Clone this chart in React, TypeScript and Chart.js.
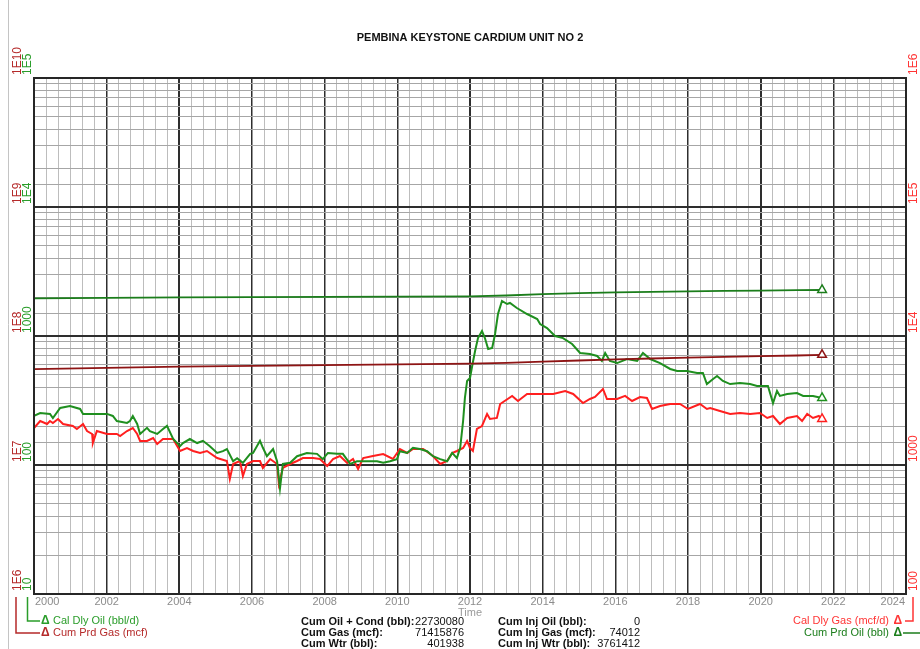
import { useEffect, useRef } from "react";
import { Chart, registerables } from "chart.js";

Chart.register(...registerables);

const FONT = "'Liberation Sans', Arial, Helvetica, sans-serif";

const chartTitle = "PEMBINA KEYSTONE CARDIUM UNIT NO 2";

// ---- Calendar-day oil rate (bbl/d) ----
const oilYears = [
  2000.0, 2000.17, 2000.44, 2000.52, 2000.72, 2000.99, 2001.27, 2001.35, 2001.73, 2002.01,
  2002.17, 2002.28, 2002.56, 2002.64, 2002.72, 2002.84, 2002.92, 2003.11, 2003.19, 2003.39,
  2003.55, 2003.66, 2003.83, 2004.02, 2004.1, 2004.29, 2004.49, 2004.65, 2004.84, 2005.04,
  2005.2, 2005.31, 2005.48, 2005.59, 2005.75, 2005.95, 2006.03, 2006.22, 2006.3, 2006.41,
  2006.58, 2006.69, 2006.77, 2006.85, 2007.05, 2007.24, 2007.51, 2007.79, 2007.95, 2008.09,
  2008.34, 2008.5, 2008.7, 2008.89, 2009.06, 2009.44, 2009.61, 2009.8, 2009.99, 2010.07,
  2010.27, 2010.43, 2010.62, 2010.82, 2010.98, 2011.18, 2011.37, 2011.51, 2011.64, 2011.73,
  2011.81, 2011.86, 2011.92, 2012.0, 2012.06, 2012.14, 2012.22, 2012.33, 2012.41, 2012.5,
  2012.61, 2012.69, 2012.77, 2012.88, 2013.02, 2013.1, 2013.29, 2013.57, 2013.85, 2013.93,
  2014.12, 2014.34, 2014.56, 2014.81, 2015.03, 2015.3, 2015.5, 2015.63, 2015.72, 2015.85,
  2016.05, 2016.32, 2016.6, 2016.76, 2016.96, 2017.23, 2017.51, 2017.7, 2017.97, 2018.25,
  2018.41, 2018.52, 2018.69, 2018.8, 2018.96, 2019.16, 2019.43, 2019.71, 2019.9, 2020.2,
  2020.34, 2020.45, 2020.53, 2020.73, 2021.0, 2021.17, 2021.44, 2021.69,
];
const oilRates = [
  240, 253, 249, 231, 277, 287, 272, 249, 249, 249,
  240, 219, 212, 219, 240, 208, 174, 194, 183, 174,
  190, 201, 159, 140, 148, 159, 148, 154, 140, 124,
  128, 133, 107, 113, 104, 122, 124, 154, 136, 117,
  133, 107, 66, 102, 104, 117, 124, 122, 111, 124,
  122, 122, 102, 107, 107, 107, 104, 107, 111, 128,
  124, 136, 133, 128, 117, 111, 107, 124, 113, 136,
  219, 331, 448, 472, 585, 765, 964, 1093, 964, 793,
  808, 1036, 1481, 1868, 1770, 1803, 1648, 1481, 1355, 1239,
  1153, 1000, 964, 867, 738, 725, 700, 640, 738, 640,
  617, 663, 640, 738, 663, 617, 555, 535, 535, 517,
  517, 424, 464, 490, 448, 424, 432, 424, 410, 410,
  302, 375, 343, 355, 361, 343, 343, 331,
];

// ---- Calendar-day gas rate (mcf/d) ----
const gasYears = [
  2000.0, 2000.17, 2000.36, 2000.44, 2000.52, 2000.66, 2000.8, 2001.07, 2001.18, 2001.35,
  2001.46, 2001.6, 2001.62, 2001.73, 2002.01, 2002.28, 2002.37, 2002.56, 2002.72, 2002.84,
  2002.92, 2003.11, 2003.28, 2003.39, 2003.55, 2003.83, 2003.94, 2004.02, 2004.21, 2004.38,
  2004.57, 2004.76, 2005.04, 2005.31, 2005.39, 2005.48, 2005.67, 2005.75, 2005.86, 2006.03,
  2006.22, 2006.3, 2006.5, 2006.69, 2006.74, 2006.85, 2007.05, 2007.24, 2007.4, 2007.68,
  2007.87, 2008.07, 2008.23, 2008.42, 2008.62, 2008.78, 2008.92, 2009.06, 2009.33, 2009.61,
  2009.88, 2010.07, 2010.27, 2010.43, 2010.71, 2010.98, 2011.18, 2011.37, 2011.51, 2011.64,
  2011.81, 2011.92, 2012.0, 2012.08, 2012.19, 2012.33, 2012.47, 2012.55, 2012.74, 2012.83,
  2013.16, 2013.32, 2013.57, 2013.93, 2014.29, 2014.62, 2014.84, 2015.11, 2015.3, 2015.44,
  2015.66, 2015.77, 2016.05, 2016.27, 2016.46, 2016.68, 2016.87, 2017.01, 2017.23, 2017.51,
  2017.78, 2018.0, 2018.33, 2018.52, 2018.61, 2018.88, 2019.16, 2019.43, 2019.71, 2019.98,
  2020.18, 2020.34, 2020.53, 2020.73, 2021.0, 2021.14, 2021.28, 2021.44, 2021.6, 2021.69,
];
const gasRates = [
  1936, 2193, 2079, 2193, 2115, 2274, 2079, 2006, 1902, 2079,
  1835, 1739, 1480, 1835, 1739, 1739, 1678, 1835, 1936, 1739,
  1535, 1535, 1619, 1455, 1591, 1591, 1404, 1284, 1355, 1284,
  1239, 1284, 1133, 1074, 779, 1018, 1074, 822, 1018, 1074,
  1074, 948, 1113, 1018, 712, 948, 1018, 1074, 1133, 1133,
  1113, 982, 1113, 1174, 1036, 1113, 931, 1133, 1174, 1217,
  1113, 1330, 1239, 1330, 1330, 1174, 1018, 1074, 1239, 1284,
  1355, 1535, 1355, 1284, 1902, 2006, 2486, 2274, 2315, 2971,
  3431, 3135, 3553, 3553, 3553, 3746, 3553, 3024, 3248, 3365,
  3883, 3248, 3248, 3431, 3135, 3365, 3307, 2717, 2868, 2971,
  2971, 2717, 2971, 2717, 2767, 2620, 2486, 2531, 2486, 2531,
  2315, 2398, 2079, 2315, 2398, 2193, 2486, 2315, 2398, 2274,
];

// ---- Cumulative production ----
const cumYears = [
  2000.0, 2002.0, 2004.0, 2006.0, 2008.0, 2010.0, 2012.0, 2013.0, 2014.0,
  2015.0, 2016.0, 2017.0, 2018.0, 2019.0, 2020.0, 2021.0, 2021.69,
];
const cumOil = [
  19600000, 19760000, 19920000, 20010000, 20100000, 20180000, 20270000, 20600000, 21150000,
  21500000, 21750000, 21990000, 22180000, 22350000, 22500000, 22640000, 22730080,
];
const cumGas = [
  55300000, 56600000, 57900000, 58700000, 59500000, 60300000, 61100000, 62000000, 63300000,
  64600000, 65800000, 66900000, 67900000, 68900000, 69800000, 70600000, 71415876,
];

// ---- Axis tick labels ----
const xTickYears = [2000, 2002, 2004, 2006, 2008, 2010, 2012, 2014, 2016, 2018, 2020, 2022, 2024];
const oilTickValues = [10, 100, 1000, 10000, 100000];
const oilTickLabels = ["10", "100", "1000", "1E4", "1E5"];
const cumGasTickValues = [1e6, 1e7, 1e8, 1e9, 1e10];
const cumGasTickLabels = ["1E6", "1E7", "1E8", "1E9", "1E10"];
const gasTickValues = [100, 1000, 10000, 100000, 1000000];
const gasTickLabels = ["100", "1000", "1E4", "1E5", "1E6"];

// ---- Summary table ----
const summaryLeftLabels = ["Cum Oil + Cond (bbl):", "Cum Gas (mcf):", "Cum Wtr (bbl):"];
const summaryLeftValues = ["22730080", "71415876", "401938"];
const summaryRightLabels = ["Cum Inj Oil (bbl):", "Cum Inj Gas (mcf):", "Cum Inj Wtr (bbl):"];
const summaryRightValues = ["0", "74012", "3761412"];

const C_OIL = "#1f8f1f";
const C_CUMOIL = "#1b7d1b";
const C_GAS = "#ff1f1f";
const C_CUMGAS = "#8e1414";
const C_LBL_CUMGAS = "#b52a2a";
const C_LBL_OIL = "#2a9d2a";
const C_LBL_GAS = "#ff3535";

const isDecade = (v: number) => {
  const l = Math.log10(v);
  return Math.abs(l - Math.round(l)) < 1e-9;
};

const lastOnly = (n: number) => (ctx: any) => (ctx.dataIndex === n - 1 ? 5 : 0);

const overlay = {
  id: "overlay",
  afterDraw(chart: any) {
    const { ctx, chartArea: a, scales } = chart;
    ctx.save();

    // page frame line
    ctx.strokeStyle = "#c4c4c4";
    ctx.lineWidth = 1;
    ctx.beginPath();
    ctx.moveTo(8.5, 0);
    ctx.lineTo(8.5, 649);
    ctx.stroke();

    // plot frame
    ctx.strokeStyle = "#262626";
    ctx.lineWidth = 2;
    ctx.strokeRect(a.left, a.top, a.right - a.left, a.bottom - a.top);

    // title
    ctx.fillStyle = "#111";
    ctx.font = `bold 11px ${FONT}`;
    ctx.textAlign = "center";
    ctx.textBaseline = "middle";
    ctx.fillText(chartTitle, (a.left + a.right) / 2, 38);

    // x tick labels
    ctx.font = `11px ${FONT}`;
    ctx.fillStyle = "#8c8c8c";
    xTickYears.forEach((yr, i) => {
      const x = scales.x.getPixelForValue(yr);
      if (i === 0) {
        ctx.textAlign = "left";
        ctx.fillText(String(yr), x + 1, a.bottom + 8);
      } else if (i === xTickYears.length - 1) {
        ctx.textAlign = "right";
        ctx.fillText(String(yr), x - 1, a.bottom + 8);
      } else {
        ctx.textAlign = "center";
        ctx.fillText(String(yr), x, a.bottom + 8);
      }
    });
    ctx.textAlign = "center";
    ctx.fillStyle = "#9a9a9a";
    ctx.fillText("Time", (a.left + a.right) / 2, a.bottom + 19);

    // rotated y labels
    const drawRot = (scaleId: string, vals: number[], labels: string[], x: number, color: string) => {
      const s = scales[scaleId];
      ctx.fillStyle = color;
      ctx.font = `12px ${FONT}`;
      vals.forEach((v, i) => {
        const y = s.getPixelForValue(v);
        ctx.save();
        ctx.translate(x, y - 3);
        ctx.rotate(-Math.PI / 2);
        ctx.textAlign = "left";
        ctx.textBaseline = "middle";
        ctx.fillText(labels[i], 0, 0);
        ctx.restore();
      });
    };
    drawRot("yCumGas", cumGasTickValues, cumGasTickLabels, 17.5, C_LBL_CUMGAS);
    drawRot("yOil", oilTickValues, oilTickLabels, 28, C_LBL_OIL);
    drawRot("yGas", gasTickValues, gasTickLabels, 913.5, C_LBL_GAS);

    // axis legend connectors
    ctx.lineWidth = 1.5;
    ctx.strokeStyle = C_LBL_CUMGAS;
    ctx.beginPath();
    ctx.moveTo(16, a.bottom + 3);
    ctx.lineTo(16, 633);
    ctx.lineTo(40, 633);
    ctx.stroke();
    ctx.strokeStyle = C_LBL_OIL;
    ctx.beginPath();
    ctx.moveTo(27.5, a.bottom + 3);
    ctx.lineTo(27.5, 621);
    ctx.lineTo(40, 621);
    ctx.stroke();
    ctx.strokeStyle = C_LBL_GAS;
    ctx.beginPath();
    ctx.moveTo(913, a.bottom + 3);
    ctx.lineTo(913, 621);
    ctx.lineTo(905, 621);
    ctx.stroke();
    ctx.strokeStyle = C_CUMOIL;
    ctx.beginPath();
    ctx.moveTo(903, 633);
    ctx.lineTo(920, 633);
    ctx.stroke();

    ctx.textBaseline = "middle";
    const legendL = (text: string, y: number, color: string) => {
      ctx.fillStyle = color;
      ctx.textAlign = "left";
      ctx.font = `bold 12px ${FONT}`;
      ctx.fillText("\u0394", 41, y);
      ctx.font = `11px ${FONT}`;
      ctx.fillText(text, 53, y);
    };
    const legendR = (text: string, y: number, color: string) => {
      ctx.fillStyle = color;
      ctx.textAlign = "right";
      ctx.font = `bold 12px ${FONT}`;
      ctx.fillText("\u0394", 902, y);
      ctx.font = `11px ${FONT}`;
      ctx.fillText(text, 889, y);
    };
    legendL("Cal Dly Oil (bbl/d)", 621, C_LBL_OIL);
    legendL("Cum Prd Gas (mcf)", 633, C_LBL_CUMGAS);
    legendR("Cal Dly Gas (mcf/d)", 621, C_LBL_GAS);
    legendR("Cum Prd Oil (bbl)", 633, C_CUMOIL);

    // summary table
    ctx.fillStyle = "#111";
    const rowY = [622, 633, 644];
    rowY.forEach((y, i) => {
      ctx.font = `bold 11px ${FONT}`;
      ctx.textAlign = "left";
      ctx.fillText(summaryLeftLabels[i], 301, y);
      ctx.fillText(summaryRightLabels[i], 498, y);
      ctx.font = `11px ${FONT}`;
      ctx.textAlign = "right";
      ctx.fillText(summaryLeftValues[i], 464, y);
      ctx.fillText(summaryRightValues[i], 640, y);
    });

    ctx.restore();
  },
};

export default function App() {
  const ref = useRef<HTMLCanvasElement>(null);

  useEffect(() => {
    const canvas = ref.current;
    if (!canvas) return;

    const xTicks: number[] = [];
    for (let i = 0; i <= 72; i++) xTicks.push(2000 + i / 3);

    const logGrid = {
      drawTicks: false,
      color: (c: any) => (c.tick && isDecade(c.tick.value) ? "#2e2e2e" : "#a6a6a6"),
      lineWidth: (c: any) => (c.tick && isDecade(c.tick.value) ? 2 : 1),
    };

    const chart = new Chart(canvas, {
      type: "line",
      data: {
        datasets: [
          {
            label: "Cum Prd Oil (bbl)",
            data: cumYears.map((x, i) => ({ x, y: cumOil[i] })),
            yAxisID: "yCumOil",
            borderColor: C_CUMOIL,
            borderWidth: 1.8,
            pointStyle: "triangle",
            pointRadius: lastOnly(cumYears.length),
            pointBackgroundColor: "#ffffff",
            pointBorderColor: C_CUMOIL,
            pointBorderWidth: 1.5,
          },
          {
            label: "Cum Prd Gas (mcf)",
            data: cumYears.map((x, i) => ({ x, y: cumGas[i] })),
            yAxisID: "yCumGas",
            borderColor: C_CUMGAS,
            borderWidth: 1.8,
            pointStyle: "triangle",
            pointRadius: lastOnly(cumYears.length),
            pointBackgroundColor: "#ffffff",
            pointBorderColor: C_CUMGAS,
            pointBorderWidth: 1.5,
          },
          {
            label: "Cal Dly Oil (bbl/d)",
            data: oilYears.map((x, i) => ({ x, y: oilRates[i] })),
            yAxisID: "yOil",
            borderColor: C_OIL,
            borderWidth: 2,
            pointStyle: "triangle",
            pointRadius: lastOnly(oilYears.length),
            pointBackgroundColor: "#ffffff",
            pointBorderColor: C_OIL,
            pointBorderWidth: 1.5,
          },
          {
            label: "Cal Dly Gas (mcf/d)",
            data: gasYears.map((x, i) => ({ x, y: gasRates[i] })),
            yAxisID: "yGas",
            borderColor: C_GAS,
            borderWidth: 2,
            pointStyle: "triangle",
            pointRadius: lastOnly(gasYears.length),
            pointBackgroundColor: "#ffffff",
            pointBorderColor: C_GAS,
            pointBorderWidth: 1.5,
          },
        ],
      },
      options: {
        animation: false,
        responsive: false,
        devicePixelRatio: 1,
        events: [],
        layout: { padding: { left: 34, top: 78, right: 14, bottom: 55 } },
        elements: { line: { tension: 0 } },
        plugins: {
          legend: { display: false },
          title: { display: false },
          tooltip: { enabled: false },
        },
        scales: {
          x: {
            type: "linear",
            min: 2000,
            max: 2024,
            border: { display: false },
            ticks: { display: false },
            afterBuildTicks: (s: any) => {
              s.ticks = xTicks.map((v) => ({ value: v }));
            },
            afterFit: (s: any) => {
              s.height = 0;
            },
            grid: {
              drawTicks: false,
              color: (c: any) => {
                const v = c.tick ? c.tick.value : 0;
                const r = Math.round(v);
                if (Math.abs(v - r) < 1e-6 && r % 2 === 0) return "#2e2e2e";
                return "#bdbdbd";
              },
              lineWidth: (c: any) => {
                const v = c.tick ? c.tick.value : 0;
                const r = Math.round(v);
                if (Math.abs(v - r) < 1e-6 && r % 2 === 0) return (r - 2004) % 8 === 0 ? 2 : 1.5;
                return 1;
              },
            },
          },
          yOil: {
            type: "logarithmic",
            position: "left",
            min: 10,
            max: 100000,
            border: { display: false },
            ticks: { display: false, autoSkip: false },
            afterFit: (s: any) => {
              s.width = 0;
            },
            grid: logGrid as any,
          },
          yCumGas: {
            type: "logarithmic",
            position: "left",
            min: 1e6,
            max: 1e10,
            display: false,
          },
          yGas: {
            type: "logarithmic",
            position: "right",
            min: 100,
            max: 1e6,
            display: false,
          },
          yCumOil: {
            type: "logarithmic",
            position: "right",
            min: 1e5,
            max: 1e9,
            display: false,
          },
        },
      } as any,
      plugins: [overlay],
    });

    return () => chart.destroy();
  }, []);

  return (
    <div style={{ position: "absolute", left: 0, top: 0, width: 920, height: 649, background: "#ffffff" }}>
      <canvas ref={ref} width={920} height={649} style={{ display: "block", width: 920, height: 649 }} />
    </div>
  );
}
